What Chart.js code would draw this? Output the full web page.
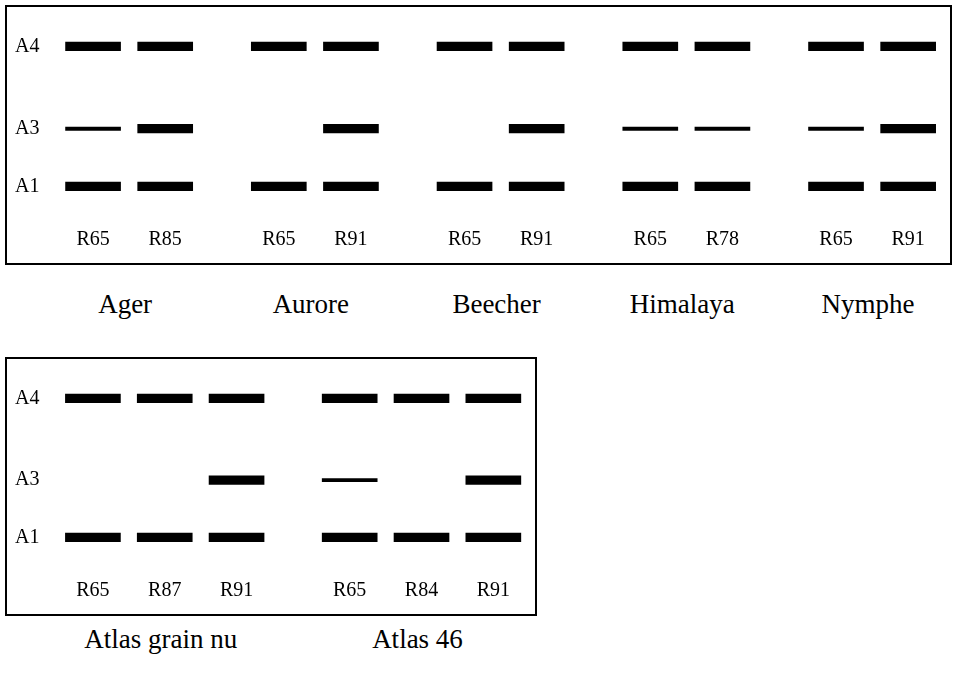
<!DOCTYPE html>
<html>
<head>
<meta charset="utf-8">
<script src="https://cdn.jsdelivr.net/npm/chart.js@4"></script>
<style>
  body { margin: 0; background: #fff; width: 958px; height: 673px; position: relative; overflow: hidden; }
  .gel { position: absolute; border: 2px solid #000; background: #fff; }
  .group-label {
    position: absolute;
    font-family: "Liberation Serif", "Times New Roman", serif;
    font-size: 27px;
    line-height: 27px;
    color: #000;
    white-space: nowrap;
    transform: translateX(-50%);
  }
</style>
</head>
<body>
<div class="gel" id="gel-top" style="left:5px; top:5px; width:943px; height:256px;">
  <canvas id="chart-top"></canvas>
</div>
<div class="gel" id="gel-bottom" style="left:5px; top:357px; width:528px; height:255px;">
  <canvas id="chart-bottom"></canvas>
</div>

<script>
// ── Data ─────────────────────────────────────────────────────
const levels = ['A4', 'A3', 'A1'];
const levelRf = [0.134, 0.535, 0.816];   // relative migration of each band

// top gel
const topGroups = ['Ager', 'Aurore', 'Beecher', 'Himalaya', 'Nymphe'];
const topLanes = [['R65', 'R85'], ['R65', 'R91'], ['R65', 'R91'], ['R65', 'R78'], ['R65', 'R91']];
// band intensity per lane: 2 strong, 1 faint, 0 absent
const topA4 = [2, 2, 2, 2, 2, 2, 2, 2, 2, 2];
const topA3 = [1, 2, 0, 2, 0, 2, 1, 1, 1, 2];
const topA1 = [2, 2, 2, 2, 2, 2, 2, 2, 2, 2];

// bottom gel
const bottomGroups = ['Atlas grain nu', 'Atlas 46'];
const bottomLanes = [['R65', 'R87', 'R91'], ['R65', 'R84', 'R91']];
const bottomA4 = [2, 2, 2, 2, 2, 2];
const bottomA3 = [0, 0, 2, 1, 0, 2];
const bottomA1 = [2, 2, 2, 2, 2, 2];

// ── Layout / style ───────────────────────────────────────────
const GROUP_GAP = 0.575;      // extra space between varieties, in lane units
const BAND_HALF = [0, 0.008, 0.021];  // half thickness by intensity
const FONT = '"Liberation Serif", "Times New Roman", serif';

Chart.defaults.font.family = FONT;
Chart.defaults.font.size = 20;
Chart.defaults.color = '#000';

function makeGel(canvasId, wrapId, groups, lanes, bands, labelTop) {
  // lane positions along x
  const lanePos = [];
  const laneNames = [];
  const groupSpan = [];
  let u = 0;
  lanes.forEach((g, gi) => {
    const first = u;
    g.forEach(name => {
      lanePos.push(u);
      laneNames.push(name);
      u += 1;
    });
    groupSpan.push([first, u - 1]);
    u += GROUP_GAP;
  });
  const lastLane = lanePos[lanePos.length - 1];

  const datasets = levels.map((lvl, li) => ({
    label: lvl,
    data: bands[li]
      .map((s, i) => s ? { x: lanePos[i], y: [levelRf[li] - BAND_HALF[s], levelRf[li] + BAND_HALF[s]] } : null)
      .filter(d => d),
    backgroundColor: '#000',
    borderWidth: 0,
    barThickness: 55,
    grouped: false,
  }));

  const chart = new Chart(document.getElementById(canvasId), {
    type: 'bar',
    data: { datasets },
    options: {
      responsive: true,
      maintainAspectRatio: false,
      animation: false,
      layout: { padding: { left: 8, right: 0, top: 0, bottom: 0 } },
      plugins: { legend: { display: false }, tooltip: { enabled: false } },
      scales: {
        x: {
          type: 'linear',
          offset: false,
          min: -0.5,
          max: lastLane + 0.58,
          grid: { display: false, drawTicks: false },
          border: { display: false },
          afterBuildTicks: s => { s.ticks = lanePos.map(v => ({ value: v })); },
          afterFit: s => { s.height = 39; },
          ticks: {
            autoSkip: false,
            maxRotation: 0,
            padding: 4,
            callback: (v, i) => laneNames[i],
          },
        },
        y: {
          type: 'linear',
          reverse: true,
          min: 0,
          max: 1,
          grid: { display: false, drawTicks: false },
          border: { display: false },
          afterBuildTicks: s => { s.ticks = levelRf.map(v => ({ value: v })); },
          afterFit: s => { s.width = 42; },
          ticks: {
            crossAlign: 'far',
            padding: 0,
            callback: (v, i) => levels[i],
          },
        },
      },
    },
  });

  // variety names under the gel, centred on their lanes
  const wrap = document.getElementById(wrapId);
  const offX = wrap.offsetLeft + 2;
  groups.forEach((name, gi) => {
    const [a, b] = groupSpan[gi];
    const div = document.createElement('div');
    div.className = 'group-label';
    div.textContent = name;
    div.style.left = (offX + chart.scales.x.getPixelForValue((a + b) / 2) - 4) + 'px';
    div.style.top = labelTop + 'px';
    document.body.appendChild(div);
  });
  return chart;
}

makeGel('chart-top', 'gel-top', topGroups, topLanes, [topA4, topA3, topA1], 291);
makeGel('chart-bottom', 'gel-bottom', bottomGroups, bottomLanes, [bottomA4, bottomA3, bottomA1], 626);
</script>
</body>
</html>
